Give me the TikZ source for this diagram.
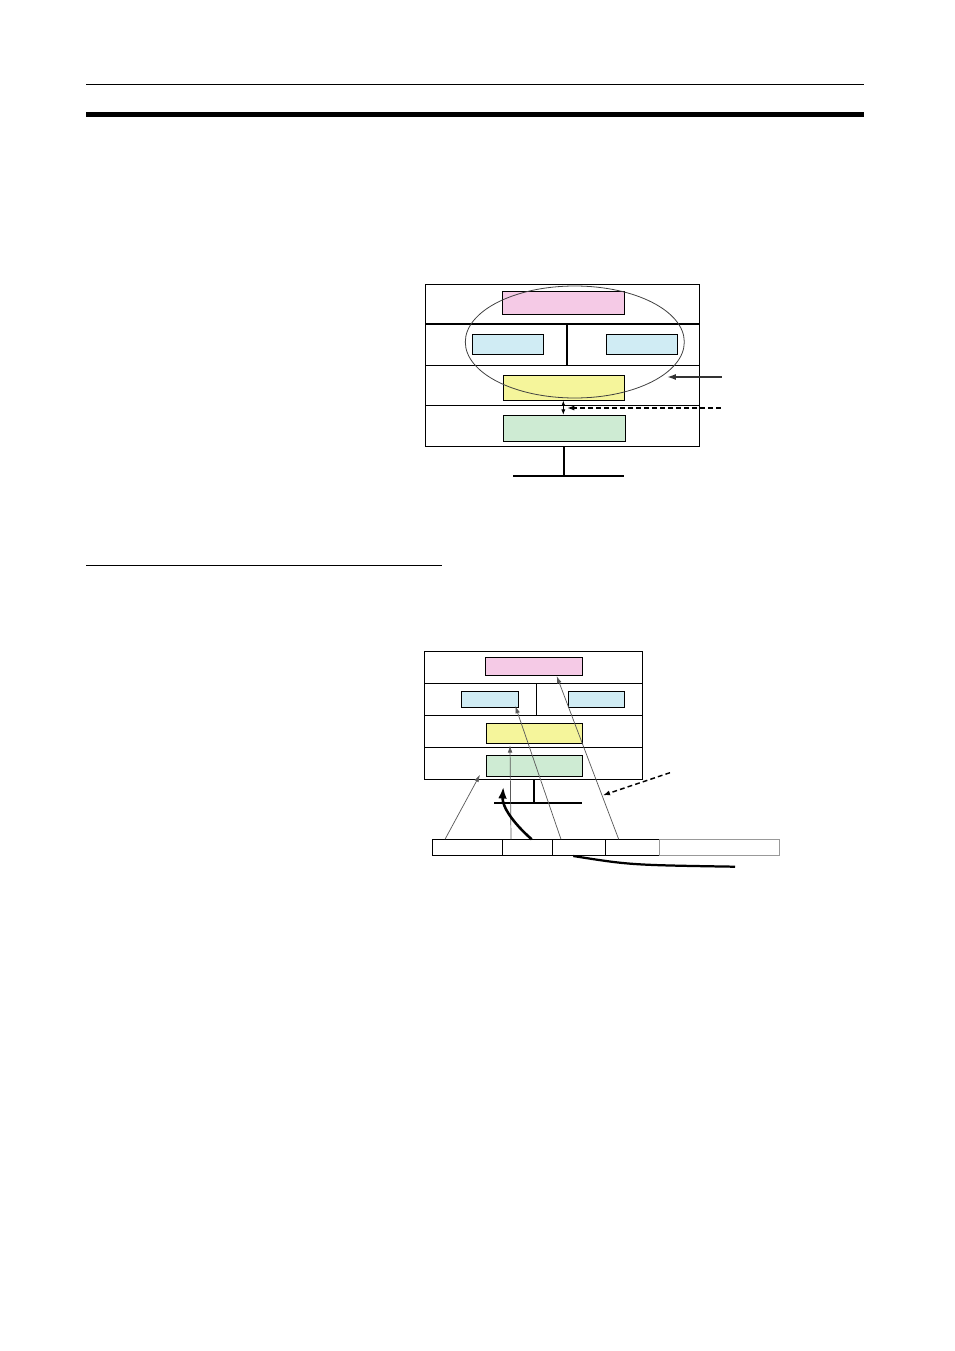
\documentclass[tikz,border=0pt]{standalone}
\usetikzlibrary{shapes.geometric, arrows.meta}

\newcommand{\pxu}{0.22mm}
\definecolor{boxpink}{RGB}{245,202,230}
\definecolor{boxcyan}{RGB}{208,236,244}
\definecolor{boxyellow}{RGB}{245,245,155}
\definecolor{boxgreen}{RGB}{206,235,211}

\tikzset{
	layer/.style={shape=rectangle, draw, line width=0.6pt, inner sep=0pt},
	thinline/.style={line width=0.6pt},
	thickline/.style={line width=1.3pt},
	pointer/.style={-{Latex[length=1.6mm, width=1mm]}, line width=0.45pt, draw=black!65},
	dashpointer/.style={-{Latex[length=1.6mm, width=1.1mm]}, line width=0.9pt, dash pattern={on 3pt off 2pt}},
}

\begin{document}
\begin{tikzpicture}[x=\pxu, y=-\pxu]
	\useasboundingbox (0,0) rectangle (954,1351);
	% Page rules:
	\draw[thinline] (86,84) -- (864,84);
	\draw[line width=3.2pt] (86,114.5) -- (864,114.5);
	\draw[thinline] (86,565) -- (442,565);

	% Upper picture: frame, layers and ellipse
	\node[layer, minimum width=274*\pxu, minimum height=161.7*\pxu] (frame1) at (562.3,365.2){};
	\draw[thickline] (425.3,324.3) -- (699.3,324.3);
	\draw[thinline] (425.3,365.3) -- (699.3,365.3);
	\draw[thinline] (425.3,405.3) -- (699.3,405.3);
	\draw[thickline] (566.7,324.3) -- (566.7,365.3);
	\node[layer, fill=boxpink, minimum width=122*\pxu, minimum height=22.7*\pxu] (pink1) at (563.3,302.7){};
	\node[layer, fill=boxcyan, minimum width=71*\pxu, minimum height=20*\pxu] (cyanl1) at (507.8,344.3){};
	\node[layer, fill=boxcyan, minimum width=71*\pxu, minimum height=20*\pxu] (cyanr1) at (641.8,344.3){};
	\node[layer, fill=boxyellow, minimum width=121*\pxu, minimum height=24.7*\pxu] (yellow1) at (563.8,387.7){};
	\node[layer, fill=boxgreen, minimum width=122*\pxu, minimum height=26*\pxu] (green1) at (564.3,428.3){};
	\node[shape=ellipse, draw=black!75, line width=0.5pt, inner sep=0pt, minimum width=219*\pxu, minimum height=112*\pxu] (ring1) at (574.8,342){};
	\draw[thickline] (564,446) -- (564,475.7);
	\draw[thickline] (513,475.7) -- (623.7,475.7);
	\coordinate (solidend) at (721.7,377);
	\coordinate (solidtip) at (666.7,377);
	\coordinate (dashend) at (720.7,408);
	\coordinate (dashtip) at (567,408);
	\draw[-{Latex[length=2mm, width=1.3mm]}, line width=1.3pt, draw=black!80] (solidend) -- (solidtip);
	\draw[dashpointer] (dashend) -- (dashtip);
	\draw[{Latex[length=1.2mm, width=0.9mm]}-{Latex[length=1.2mm, width=0.9mm]}, line width=0.5pt] (yellow1.south -| 563.3,0) -- (green1.north -| 563.3,0);

	% Lower picture: frame, layers and frame bar
	\node[layer, minimum width=218.3*\pxu, minimum height=128*\pxu] (frame2) at (533.2,715.3){};
	\draw[thinline] (424,683.3) -- (642.3,683.3);
	\draw[thinline] (424,715.3) -- (642.3,715.3);
	\draw[thinline] (424,747.3) -- (642.3,747.3);
	\draw[thinline] (536.7,683.3) -- (536.7,715.3);
	\node[layer, fill=boxpink, minimum width=97.4*\pxu, minimum height=18*\pxu] (pink2) at (534,666.3){};
	\node[layer, fill=boxcyan, minimum width=57.4*\pxu, minimum height=16*\pxu] (cyanl2) at (490,699.3){};
	\node[layer, fill=boxcyan, minimum width=56*\pxu, minimum height=16*\pxu] (cyanr2) at (596.3,699.3){};
	\node[layer, fill=boxyellow, minimum width=96.4*\pxu, minimum height=20*\pxu] (yellow2) at (534.5,733.3){};
	\node[layer, fill=boxgreen, minimum width=96.4*\pxu, minimum height=21.4*\pxu] (green2) at (534.5,766){};
	\draw[thickline] (534,779.3) -- (534,802.7);
	\draw[thickline] (494,802.7) -- (581.7,802.7);
	\node[layer, minimum width=70*\pxu, minimum height=16*\pxu] (cell1) at (467.3,847.3){};
	\node[layer, minimum width=50.4*\pxu, minimum height=16*\pxu] (cell2) at (527.5,847.3){};
	\node[layer, minimum width=53*\pxu, minimum height=16*\pxu] (cell3) at (579.2,847.3){};
	\node[layer, minimum width=53.6*\pxu, minimum height=16*\pxu] (cell4) at (632.5,847.3){};
	\node[layer, draw=black!40, minimum width=120*\pxu, minimum height=16*\pxu] (cell5) at (719.3,847.3){};

	% Lower picture: pointers
	\coordinate (from1) at (445,839.3);
	\coordinate (from2) at (511,839.3);
	\coordinate (from3) at (561,839.3);
	\coordinate (from4) at (618.7,839.3);
	\coordinate (to1) at (480,774.7);
	\coordinate (to2) at (510,745.3);
	\coordinate (to3) at (515.3,706);
	\coordinate (to4) at (556.7,676);
	\draw[pointer] (from1) -- (to1);
	\draw[pointer] (from2) -- (to2);
	\draw[pointer] (from3) -- (to3);
	\draw[pointer] (from4) -- (to4);
	\coordinate (bendfrom) at (531.7,839.3);
	\coordinate (bendto) at (503.3,786.7);
	\draw[-{Latex[length=2.6mm, width=1.9mm]}, line width=1.6pt] (bendfrom) .. controls (512,822) and (502,806) .. (bendto);
	\coordinate (leadfrom) at (573.3,856);
	\coordinate (leadto) at (735,866.7);
	\draw[line width=1.4pt] (leadfrom) .. controls (630,865) .. (leadto);
	\coordinate (dash2end) at (670,772.7);
	\coordinate (dash2tip) at (602.7,795.3);
	\draw[dashpointer] (dash2end) -- (dash2tip);
\end{tikzpicture}
\end{document}
